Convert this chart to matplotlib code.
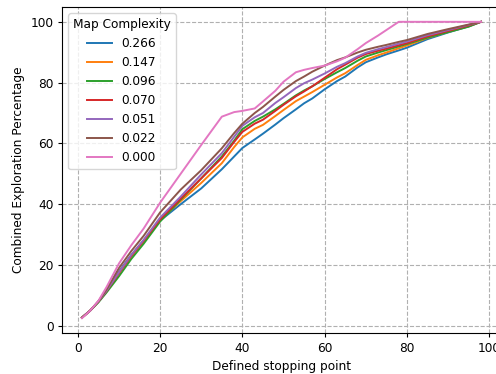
import numpy as np
import matplotlib
matplotlib.use('Agg')
import matplotlib.pyplot as plt

plt.rcParams['font.size'] = 8.75
plt.rcParams['lines.linewidth'] = 1.4
plt.rcParams['xtick.major.size'] = 3.1
plt.rcParams['ytick.major.size'] = 3.1
plt.rcParams['xtick.major.pad'] = 3.1
plt.rcParams['ytick.major.pad'] = 3.1

# stopping points at which exploration was recorded
stop_pts = [1, 3, 5, 7, 10, 13, 16, 20, 25, 30, 35, 38, 40, 43, 45, 48, 50, 53,
            55, 57, 60, 63, 65, 68, 70, 73, 75, 78, 80, 85, 90, 95, 98]

complexity = ['0.266', '0.147', '0.096', '0.070', '0.051', '0.022', '0.000']

# combined exploration percentage for each map complexity
expl_0266 = [2.7, 5.0, 8.0, 11.6, 17.9, 23.3, 28.0, 34.6, 40.0, 45.2, 51.5, 55.7, 58.5,
             61.3, 63.2, 66.2, 68.3, 71.2, 73.2, 74.8, 77.8, 80.5, 82.0, 85.0, 86.7,
             88.3, 89.3, 90.6, 91.5, 94.3, 96.5, 98.5, 100.0]
expl_0147 = [2.7, 5.0, 8.0, 11.5, 17.5, 23.0, 27.8, 34.8, 41.0, 47.0, 53.5, 58.8, 62.0,
             64.8, 66.1, 69.0, 71.0, 73.9, 75.4, 76.9, 79.3, 81.7, 83.1, 85.8, 87.5,
             89.0, 89.9, 91.3, 92.2, 94.7, 96.7, 98.6, 100.0]
expl_0096 = [2.7, 5.0, 7.7, 11.0, 16.3, 22.0, 27.0, 34.3, 41.5, 48.5, 55.7, 60.9, 64.7,
             67.4, 68.8, 71.2, 73.0, 75.8, 77.4, 78.8, 81.2, 83.4, 84.8, 87.2, 88.6,
             89.9, 90.7, 91.9, 92.7, 94.8, 96.6, 98.4, 100.0]
expl_0070 = [2.7, 5.0, 8.0, 11.5, 17.3, 23.0, 28.0, 35.0, 41.8, 48.5, 55.2, 60.5, 63.8,
             66.5, 67.8, 70.7, 72.7, 75.5, 77.1, 78.8, 81.6, 84.4, 85.9, 88.2, 89.4,
             90.5, 91.2, 92.3, 93.0, 95.2, 97.0, 98.8, 100.0]
expl_0051 = [2.7, 5.0, 8.0, 11.6, 17.6, 23.3, 28.3, 35.6, 42.5, 49.8, 56.8, 62.2, 65.8,
             68.6, 70.0, 73.3, 75.2, 78.2, 79.8, 81.0, 83.0, 85.2, 86.4, 88.6, 89.8,
             91.0, 91.7, 92.8, 93.5, 95.6, 97.3, 99.0, 100.0]
expl_0022 = [2.7, 5.0, 8.0, 12.0, 19.0, 24.6, 29.6, 37.3, 44.8, 51.2, 58.4, 63.4, 66.5,
             70.0, 72.0, 75.4, 77.6, 80.5, 82.0, 83.6, 85.6, 87.4, 88.3, 89.9, 90.8,
             91.8, 92.4, 93.4, 94.0, 96.0, 97.6, 99.1, 100.0]
expl_0000 = [2.5, 5.0, 8.2, 12.8, 20.5, 26.5, 32.0, 40.5, 50.0, 59.5, 68.8, 70.3, 70.7,
             71.5, 73.8, 77.3, 80.3, 83.4, 84.2, 84.8, 85.6, 87.0, 88.2, 91.0, 93.0,
             95.5, 97.3, 100.0, 100.0, 100.0, 100.0, 100.0, 100.0]

series = [expl_0266, expl_0147, expl_0096, expl_0070, expl_0051, expl_0022, expl_0000]

fig = plt.figure(figsize=(4.96, 3.74), dpi=100)
ax = fig.add_axes([0.125, 0.1096, 0.885, 0.8717])

for vals, lab in zip(series, complexity):
    ax.plot(stop_pts, vals, label=lab)

ax.set_xticks([0, 20, 40, 60, 80, 100])
ax.set_yticks([0, 20, 40, 60, 80, 100])
ax.set_xlabel('Defined stopping point')
ax.set_ylabel('Combined Exploration Percentage')
ax.grid(True, linestyle='--')
ax.legend(title='Map Complexity', loc='upper left')

fig.savefig('out.png', dpi=100)
